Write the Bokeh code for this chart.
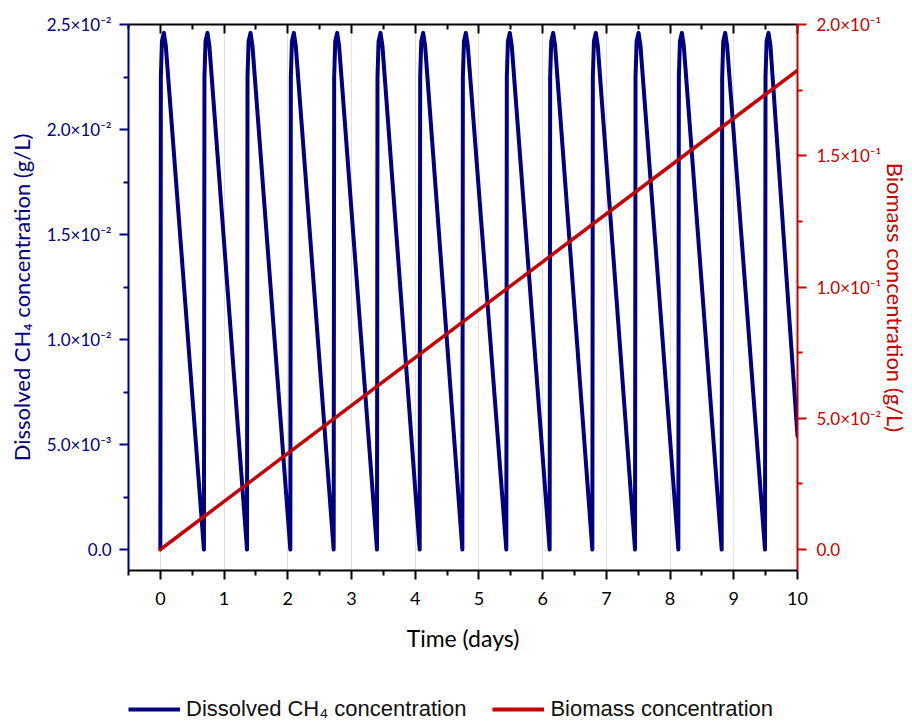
from bokeh.plotting import figure
from bokeh.layouts import column
from bokeh.models import Range1d, LinearAxis, FixedTicker, Legend, LegendItem
from bokeh.embed import file_html
from bokeh.resources import INLINE

# ---------------- data ----------------
ch4_time = [
    0.000, 0.008, 0.025, 0.055, 0.085,
    0.684, 0.692, 0.709, 0.739, 0.769,
    1.360, 1.368, 1.385, 1.415, 1.445,
    2.040, 2.048, 2.065, 2.095, 2.125,
    2.720, 2.728, 2.745, 2.775, 2.805,
    3.400, 3.408, 3.425, 3.455, 3.485,
    4.070, 4.078, 4.095, 4.125, 4.155,
    4.740, 4.748, 4.765, 4.795, 4.825,
    5.430, 5.438, 5.455, 5.485, 5.515,
    6.110, 6.118, 6.135, 6.165, 6.195,
    6.780, 6.788, 6.805, 6.835, 6.865,
    7.450, 7.458, 7.475, 7.505, 7.535,
    8.130, 8.138, 8.155, 8.185, 8.215,
    8.810, 8.818, 8.835, 8.865, 8.895,
    9.490, 9.498, 9.515, 9.545, 9.575,
    10.000,
]
ch4_conc = [
    0.0, 0.0225, 0.0242, 0.0246, 0.0240,
    0.0, 0.0225, 0.0242, 0.0246, 0.0240,
    0.0, 0.0225, 0.0242, 0.0246, 0.0240,
    0.0, 0.0225, 0.0242, 0.0246, 0.0240,
    0.0, 0.0225, 0.0242, 0.0246, 0.0240,
    0.0, 0.0225, 0.0242, 0.0246, 0.0240,
    0.0, 0.0225, 0.0242, 0.0246, 0.0240,
    0.0, 0.0225, 0.0242, 0.0246, 0.0240,
    0.0, 0.0225, 0.0242, 0.0246, 0.0240,
    0.0, 0.0225, 0.0242, 0.0246, 0.0240,
    0.0, 0.0225, 0.0242, 0.0246, 0.0240,
    0.0, 0.0225, 0.0242, 0.0246, 0.0240,
    0.0, 0.0225, 0.0242, 0.0246, 0.0240,
    0.0, 0.0225, 0.0242, 0.0246, 0.0240,
    0.0, 0.0225, 0.0242, 0.0246, 0.0240,
    0.0054,
]
bio_time = [0, 2, 4, 6, 8, 10]
bio_conc = [0.0, 0.0366, 0.0731, 0.1096, 0.1461, 0.1825]

series_names = ["Dissolved CH₄ concentration", "Biomass concentration"]

x_ticks = [0, 1, 2, 3, 4, 5, 6, 7, 8, 9, 10]
x_minor = [-0.5, 0.5, 1.5, 2.5, 3.5, 4.5, 5.5, 6.5, 7.5, 8.5, 9.5]
left_ticks = [0.0, 0.005, 0.01, 0.015, 0.02, 0.025]
left_labels = ["0.0", "5.0×10⁻³", "1.0×10⁻²", "1.5×10⁻²", "2.0×10⁻²", "2.5×10⁻²"]
left_minor = [0.0025, 0.0075, 0.0125, 0.0175, 0.0225]
right_ticks = [0.0, 0.05, 0.1, 0.15, 0.2]
right_labels = ["0.0", "5.0×10⁻²", "1.0×10⁻¹", "1.5×10⁻¹", "2.0×10⁻¹"]
right_minor = [0.025, 0.075, 0.125, 0.175]

# ---------------- styling ----------------
NAVY = "#000080"
RED = "#C80000"
FONT = "Lato"
LEG_FONT = "Liberation Sans"

p = figure(width=912, height=680,
           x_range=Range1d(-0.5, 10), y_range=Range1d(-0.001, 0.025),
           output_backend="svg", toolbar_location=None,
           min_border_left=128, min_border_right=115,
           min_border_top=24, min_border_bottom=110)
p.outline_line_color = None
p.background_fill_color = "white"
p.border_fill_color = "white"
p.extra_y_ranges = {"bio": Range1d(-0.008, 0.2)}

p.ygrid.visible = False
p.xgrid.ticker = FixedTicker(ticks=x_ticks)
p.xgrid.grid_line_color = "#e2e2e2"
p.xgrid.grid_line_width = 1


def style_axis(ax, color, tick_in, tick_out, mtick_in, mtick_out):
    ax.axis_line_color = color
    ax.axis_line_width = 2
    ax.major_tick_line_color = color
    ax.minor_tick_line_color = color
    ax.major_tick_line_width = 2
    ax.minor_tick_line_width = 2
    ax.major_tick_in = tick_in
    ax.major_tick_out = tick_out
    ax.minor_tick_in = mtick_in
    ax.minor_tick_out = mtick_out
    ax.major_label_text_color = color
    ax.major_label_text_font = FONT
    ax.major_label_text_font_size = "17px"
    ax.axis_label_text_color = color
    ax.axis_label_text_font = FONT
    ax.axis_label_text_font_size = "22px"
    ax.axis_label_text_font_style = "normal"


# bottom axis
xa = p.xaxis[0]
xa.ticker = FixedTicker(ticks=x_ticks, minor_ticks=x_minor)
style_axis(xa, "black", 0, 9, 0, 5)
xa.major_label_text_font_size = "18px"
xa.major_label_standoff = 12
xa.axis_label = "Time (days)"
xa.axis_label_text_font_size = "23px"
xa.axis_label_standoff = 16

# top axis (mirror, no labels)
ta = LinearAxis(ticker=FixedTicker(ticks=x_ticks, minor_ticks=x_minor))
style_axis(ta, "black", 9, 0, 5, 0)
ta.major_label_text_font_size = "0px"
ta.major_label_standoff = 0
ta.major_label_overrides = {t: "" for t in x_ticks}
p.add_layout(ta, "above")

# left axis
ya = p.yaxis[0]
ya.ticker = FixedTicker(ticks=left_ticks, minor_ticks=left_minor)
ya.major_label_overrides = dict(zip(left_ticks, left_labels))
style_axis(ya, NAVY, 0, 9, 0, 5)
ya.major_label_standoff = 8
ya.axis_label = "Dissolved CH₄ concentration (g/L)"
ya.axis_label_standoff = 9

# right axis
ra = LinearAxis(y_range_name="bio",
                ticker=FixedTicker(ticks=right_ticks, minor_ticks=right_minor))
ra.major_label_overrides = dict(zip(right_ticks, right_labels))
style_axis(ra, RED, 0, 9, 0, 5)
ra.major_label_standoff = 10
ra.axis_label = "Biomass concentration (g/L)"
ra.axis_label_standoff = -2
ra.axis_label_orientation = "vertical"
p.add_layout(ra, "right")

# data lines
r1 = p.line(ch4_time, ch4_conc, line_color=NAVY, line_width=4,
            line_join="round", line_cap="round")
r2 = p.line(bio_time, bio_conc, line_color=RED, line_width=3.5,
            y_range_name="bio", line_cap="round")

# ---------------- legend strip ----------------
pl = figure(width=912, height=42, x_range=Range1d(20, 21), y_range=Range1d(0, 1),
            x_axis_type=None, y_axis_type=None,
            output_backend="svg", toolbar_location=None, min_border=0)
pl.outline_line_color = None
pl.border_fill_color = "white"
lg1 = pl.line(ch4_time, ch4_conc, line_color=NAVY, line_width=4)
lg2 = pl.line(bio_time, bio_conc, line_color=RED, line_width=4)

legend = Legend(items=[
    LegendItem(label=series_names[0], renderers=[lg1]),
    LegendItem(label=series_names[1], renderers=[lg2]),
], orientation="horizontal", location=(0, 0),
    border_line_color=None, background_fill_alpha=0,
    label_text_font=LEG_FONT, label_text_font_size="22px",
    label_text_color="#111111",
    glyph_width=52, glyph_height=20, label_standoff=6, spacing=26,
    padding=0, margin=0)
pl.add_layout(legend, "center")

layout = column(p, pl, spacing=0)
open("out.html", "w").write(file_html(layout, INLINE))
